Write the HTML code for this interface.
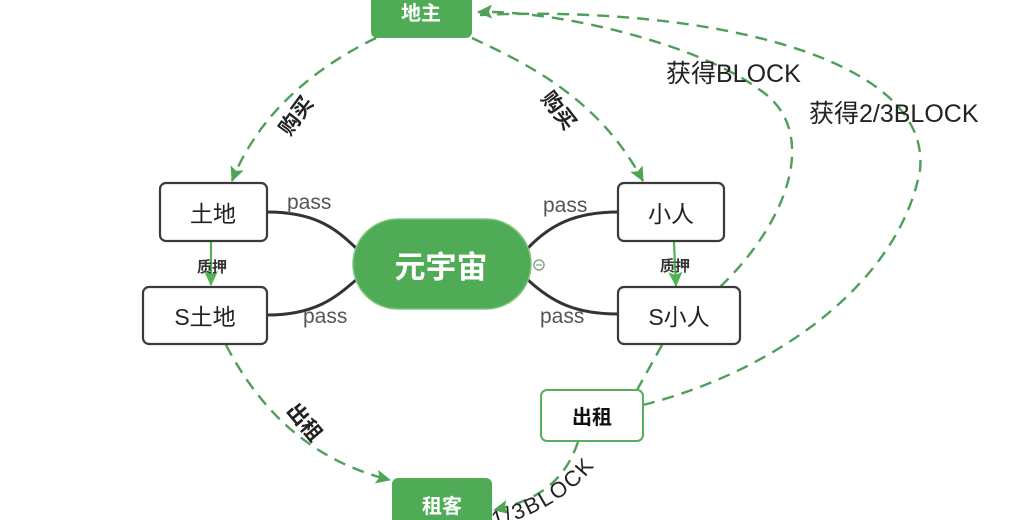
<!DOCTYPE html>
<html>
<head>
<meta charset="utf-8">
<style>
html,body{margin:0;padding:0;background:#fff;}
svg{display:block;}
text{font-family:"Liberation Sans","Noto Sans CJK SC",sans-serif;}
</style>
</head>
<body>
<svg width="1024" height="520" viewBox="0 0 1024 520" xmlns="http://www.w3.org/2000/svg">
<defs>
<marker id="ah" markerUnits="userSpaceOnUse" markerWidth="16" markerHeight="16" viewBox="0 0 16 16" refX="14" refY="8" orient="auto">
<path d="M0,1 L15,8 L0,15 L3,8 Z" fill="#4ea654"/>
</marker>
<marker id="ah2" markerUnits="userSpaceOnUse" markerWidth="16" markerHeight="16" viewBox="0 0 16 16" refX="14" refY="8" orient="auto">
<path d="M0,1 L15,8 L0,15 L3,8 Z" fill="#4fb257"/>
</marker>
</defs>

<!-- green dashed connectors -->
<g fill="none" stroke="#4f9e5c" stroke-width="2.4" stroke-dasharray="12 8">
<path d="M376 38 C 320 65, 260 110, 232 181" marker-end="url(#ah)"/>
<path d="M472 38 C 530 65, 600 100, 643 181" marker-end="url(#ah)"/>
<path d="M720 287 C 790 220, 820 130, 760 90 C 700 45, 560 10, 478 12" marker-end="url(#ah)"/>
<path d="M643 405 C 780 370, 900 280, 920 170 C 932 55, 700 5, 480 15"/>
<path d="M662 345 L 637 390"/>
<path d="M226 345 C 260 410, 310 460, 390 480" marker-end="url(#ah)"/>
<path d="M578 442 C 565 480, 540 500, 494 510" marker-end="url(#ah)"/>
</g>

<!-- black curves -->
<g fill="none" stroke="#333" stroke-width="3">
<path d="M267 212 C 315 212, 335 228, 356 248"/>
<path d="M267 315 C 315 315, 335 298, 356 280"/>
<path d="M528 248 C 550 225, 575 212, 618 212"/>
<path d="M528 280 C 552 302, 575 314, 618 314"/>
</g>

<!-- 质押 arrows -->
<g stroke="#4fb257" stroke-width="2.2" fill="none">
<path d="M211 242 L 211 285" marker-end="url(#ah2)"/>
<path d="M674 242 L 676 286" marker-end="url(#ah2)"/>
</g>

<!-- 地主 -->
<rect x="371" y="-10" width="101" height="48" rx="6" fill="#4fab55"/>
<text x="421" y="20" font-size="20" font-weight="bold" fill="#fff" text-anchor="middle">地主</text>

<!-- 租客 -->
<rect x="392" y="478" width="100" height="60" rx="6" fill="#4fab55"/>
<text x="442" y="513" font-size="20" font-weight="bold" fill="#fff" text-anchor="middle">租客</text>

<!-- white boxes -->
<g fill="#fff" stroke="#3a3a3a" stroke-width="2.2">
<rect x="160" y="183" width="107" height="58" rx="6"/>
<rect x="143" y="287" width="124" height="57" rx="6"/>
<rect x="618" y="183" width="106" height="58" rx="6"/>
<rect x="618" y="287" width="122" height="57" rx="6"/>
</g>
<g font-size="23" fill="#222" text-anchor="middle">
<text x="213" y="222">土地</text>
<text x="205" y="325">S土地</text>
<text x="671" y="222">小人</text>
<text x="679" y="325">S小人</text>
</g>

<!-- 出租 box -->
<rect x="541" y="390" width="102" height="51" rx="6" fill="#fff" stroke="#5aae60" stroke-width="2"/>
<text x="592" y="424" font-size="20" font-weight="bold" fill="#111" text-anchor="middle">出租</text>

<!-- 元宇宙 -->
<rect x="353" y="219" width="178" height="90" rx="45" fill="#4fab55" stroke="#7cc47f" stroke-width="1.5"/>
<text x="441" y="278" font-size="31" font-weight="bold" fill="#fff" text-anchor="middle">元宇宙</text>

<circle cx="539" cy="265" r="5" fill="#fff" stroke="#8aa888" stroke-width="1.5"/>
<line x1="536" y1="265" x2="542" y2="265" stroke="#8aa888" stroke-width="1.3"/>

<!-- pass labels -->
<g font-size="21" fill="#555">
<text x="287" y="209">pass</text>
<text x="303" y="323">pass</text>
<text x="543" y="212">pass</text>
<text x="540" y="323">pass</text>
</g>

<!-- 质押 labels -->
<g font-size="15" font-weight="bold" fill="#333" text-anchor="middle">
<text x="212" y="272">质押</text>
<text x="675" y="271">质押</text>
</g>

<!-- connector labels -->
<g font-size="21" fill="#222" text-anchor="middle" font-weight="bold">
<text x="0" y="0" transform="translate(302,120) rotate(-54)">购买</text>
<text x="0" y="0" transform="translate(553,115) rotate(52)">购买</text>
<text x="0" y="0" transform="translate(299,427) rotate(50)">出租</text>
</g>
<g font-size="25" fill="#222">
<text x="666" y="82">获得BLOCK</text>
<text x="809" y="122">获得2/3BLOCK</text>
</g>

<path id="tp" d="M494 527 C 543 514, 590 486, 610 440" fill="none"/>
<text font-size="22" fill="#222" letter-spacing="2"><textPath href="#tp">1/3BLOCK</textPath></text>
</svg>
</body>
</html>
